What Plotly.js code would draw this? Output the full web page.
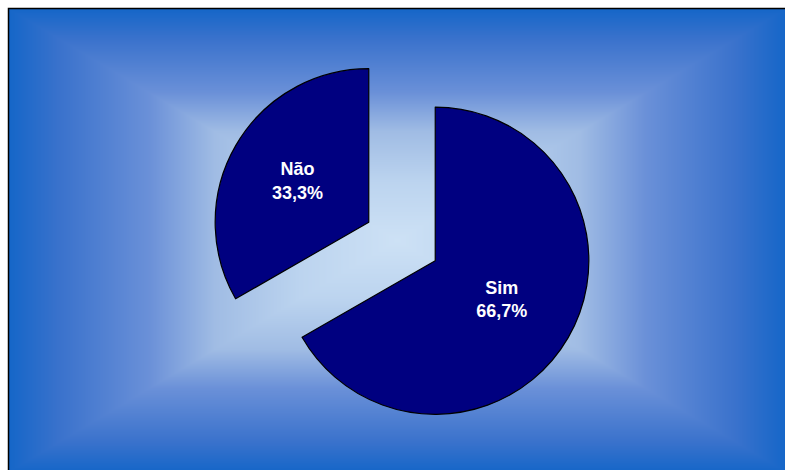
<!DOCTYPE html>
<html><head><meta charset="utf-8">
<script src="https://cdn.plot.ly/plotly-3.0.1.min.js"></script>
<style>html,body{margin:0;padding:0;background:#fff}#chart{width:785px;height:470px}</style>
</head><body><div id="chart"></div>
<script>
const labels = ['Sim', 'Não'];
const values = [66.7, 33.3];
const sliceColors = ['#000080', '#000080'];

const W = 785, H = 470;
// background rectangle gradient
function makeBg() {
  const x0 = 9, y0 = 9, x1 = 786, y1 = 472;
  const w = x1 - x0, h = y1 - y0;
  const c = document.createElement('canvas');
  c.width = w; c.height = h;
  const ctx = c.getContext('2d');
  const img = ctx.createImageData(w, h);
  const stops = [
    [0.0, [205, 225, 245]],
    [0.25, [188, 212, 239]],
    [0.47, [160, 188, 228]],
    [0.64, [106, 144, 216]],
    [0.87, [58, 114, 204]],
    [1.0, [21, 102, 200]]
  ];
  function col(t) {
    for (let i = 1; i < stops.length; i++) {
      if (t <= stops[i][0]) {
        const a = stops[i - 1], b = stops[i];
        const f = (t - a[0]) / (b[0] - a[0]);
        return a[1].map((v, k) => v + (b[1][k] - v) * f);
      }
    }
    return stops[stops.length - 1][1];
  }
  const cx = w / 2, cy = h / 2;
  for (let y = 0; y < h; y++) {
    for (let x = 0; x < w; x++) {
      const t = Math.min(1, Math.max(Math.abs(x + 0.5 - cx) / cx, Math.abs(y + 0.5 - cy) / cy));
      const cc = col(t);
      const i = (y * w + x) * 4;
      img.data[i] = cc[0]; img.data[i + 1] = cc[1]; img.data[i + 2] = cc[2]; img.data[i + 3] = 255;
    }
  }
  ctx.putImageData(img, 0, 0);
  return {src: c.toDataURL(), x0, y0, w, h};
}
const bg = makeBg();

const cxPix = 402, cyPix = 241.5, half = 192;
const trace = {
  type: 'pie',
  labels: labels,
  values: values,
  sort: false,
  direction: 'clockwise',
  rotation: 0,
  pull: [0.25, 0.25],
  marker: {colors: sliceColors, line: {color: '#000000', width: 1.2}},
  texttemplate: '%{label}<br>%{percent:.1%}',
  textposition: 'inside',
  insidetextorientation: 'horizontal',
  textfont: {family: 'Liberation Sans, Arial, sans-serif', size: 18, color: '#ffffff', weight: 'bold'},
  hoverinfo: 'none',
  showlegend: false,
  domain: {
    x: [(cxPix - 300) / W, (cxPix + 300) / W],
    y: [(H - (cyPix + half)) / H, (H - (cyPix - half)) / H]
  }
};

const layout = {
  width: W, height: H,
  margin: {l: 0, r: 0, t: 0, b: 0},
  paper_bgcolor: '#ffffff',
  separators: ',.',
  showlegend: false,
  images: [{
    source: bg.src, xref: 'paper', yref: 'paper',
    x: bg.x0 / W, y: 1 - bg.y0 / H, sizex: bg.w / W, sizey: bg.h / H,
    xanchor: 'left', yanchor: 'top', sizing: 'stretch', layer: 'below'
  }],
  shapes: [{
    type: 'rect', xref: 'paper', yref: 'paper',
    x0: 8.5 / W, x1: 1.05, y0: -0.05, y1: 1 - 8.5 / H,
    line: {color: '#000000', width: 1.5}, fillcolor: 'rgba(0,0,0,0)'
  }]
};

Plotly.newPlot('chart', [trace], layout, {displayModeBar: false, staticPlot: true});
</script></body></html>
